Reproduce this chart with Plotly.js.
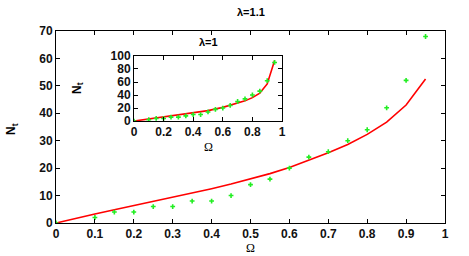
<!DOCTYPE html>
<html><head><meta charset="utf-8">
<script src="https://cdn.plot.ly/plotly-3.0.1.min.js"></script>
<style>html,body{margin:0;padding:0;background:#fff}</style>
</head><body><div id="chart" style="width:469px;height:256px"></div>
<script>
// Main panel (lambda = 1.1)
const mainOmegaPts = [0,0.1,0.15,0.2,0.25,0.3,0.35,0.4,0.45,0.5,0.55,0.6,0.65,0.7,0.75,0.8,0.85,0.9,0.95];
const mainNtPts    = [0,2,4,4,6,6,8,8,10,14,16,20,24,26,30,34,42,52,68];
const mainOmegaLine = [0,0.05,0.1,0.15,0.2,0.25,0.3,0.35,0.4,0.45,0.5,0.55,0.6,0.65,0.7,0.75,0.8,0.85,0.9,0.95];
const mainNtLine    = [0,1.7,3.3,4.8,6.3,7.8,9.3,10.9,12.5,14.2,16.1,18,20.2,22.8,25.6,28.6,32.3,36.8,43,52.5];
// Inset panel (lambda = 1)
const insetOmegaPts = [0,0.1,0.15,0.2,0.25,0.3,0.35,0.4,0.45,0.5,0.55,0.6,0.65,0.7,0.75,0.8,0.85,0.9,0.95];
const insetNtPts    = [0,2,4,4,6,6,8,10,10,14,18,20,24,30,34,40,46,62,90];
const insetOmegaLine = [0,0.1,0.2,0.3,0.4,0.5,0.6,0.7,0.75,0.8,0.85,0.9,0.95];
const insetNtLine    = [0,3,6,9,12.5,16,21,27,31,36,43,57,93];
const mainXTicks = [0,0.1,0.2,0.3,0.4,0.5,0.6,0.7,0.8,0.9,1];
const mainYTicks = [0,10,20,30,40,50,60,70];
const insetXTicks = [0,0.2,0.4,0.6,0.8,1];
const insetYTicks = [0,20,40,60,80,100];

const red = '#ff0000', green = '#22ee22';
const tickFont = {family:'Liberation Sans, Arial, sans-serif', size:12, color:'#111', weight:'bold'};
const traces = [
  {x:mainOmegaLine, y:mainNtLine, mode:'lines', line:{color:red, width:1.6}, xaxis:'x', yaxis:'y', hoverinfo:'skip'},
  {x:mainOmegaPts, y:mainNtPts, mode:'markers', marker:{symbol:'cross', size:4, color:green}, xaxis:'x', yaxis:'y'},
  {x:insetOmegaLine, y:insetNtLine, mode:'lines', line:{color:red, width:1.6}, xaxis:'x2', yaxis:'y2'},
  {x:insetOmegaPts, y:insetNtPts, mode:'markers', marker:{symbol:'cross', size:4, color:green}, xaxis:'x2', yaxis:'y2'}
];
const axCommon = {showgrid:false, zeroline:false, showline:true, linecolor:'#000', linewidth:1, mirror:'allticks', ticks:'inside', ticklen:4, tickcolor:'#000', tickfont:tickFont};
const layout = {
  width:469, height:256, showlegend:false,
  paper_bgcolor:'#fff', plot_bgcolor:'#fff',
  margin:{l:56, r:24, t:31, b:33},
  xaxis: Object.assign({}, axCommon, {domain:[0,1], range:[0,1], tickvals:mainXTicks, ticktext:mainXTicks.map(String), anchor:'y'}),
  yaxis: Object.assign({}, axCommon, {domain:[0,1], range:[0,70], tickvals:mainYTicks, anchor:'x'}),
  xaxis2: Object.assign({}, axCommon, {domain:[0.2005,0.581], range:[0,1], tickvals:insetXTicks, ticktext:insetXTicks.map(String), anchor:'y2'}),
  yaxis2: Object.assign({}, axCommon, {domain:[0.531,0.870], range:[0,100], tickvals:insetYTicks, anchor:'x2'}),
  annotations:[
    {text:'λ=1.1', xref:'paper', yref:'paper', x:0.5, y:1.1, yanchor:'middle', showarrow:false, font:{family:'Liberation Sans, Arial', size:11, weight:'bold', color:'#000'}},
    {text:'λ=1', xref:'paper', yref:'paper', x:0.391, y:0.945, yanchor:'middle', showarrow:false, font:{family:'Liberation Sans, Arial', size:11, weight:'bold', color:'#000'}},
    {text:'Ω', xref:'paper', yref:'paper', x:0.5, y:-0.13, yanchor:'middle', showarrow:false, font:{family:'Liberation Serif, serif', size:12, color:'#000'}},
    {text:'Ω', xref:'paper', yref:'paper', x:0.391, y:0.395, yanchor:'middle', showarrow:false, font:{family:'Liberation Serif, serif', size:12, color:'#000'}},
    {text:'N<sub>t</sub>', xref:'paper', yref:'paper', x:-0.113, y:0.49, xanchor:'center', yanchor:'middle', textangle:-90, showarrow:false, font:{family:'Liberation Sans, Arial', size:12, weight:'bold', color:'#000'}},
    {text:'N<sub>t</sub>', xref:'paper', yref:'paper', x:0.055, y:0.705, xanchor:'center', yanchor:'middle', textangle:-90, showarrow:false, font:{family:'Liberation Sans, Arial', size:12, weight:'bold', color:'#000'}}
  ]
};
Plotly.newPlot('chart', traces, layout, {displayModeBar:false, staticPlot:true});
</script></body></html>
